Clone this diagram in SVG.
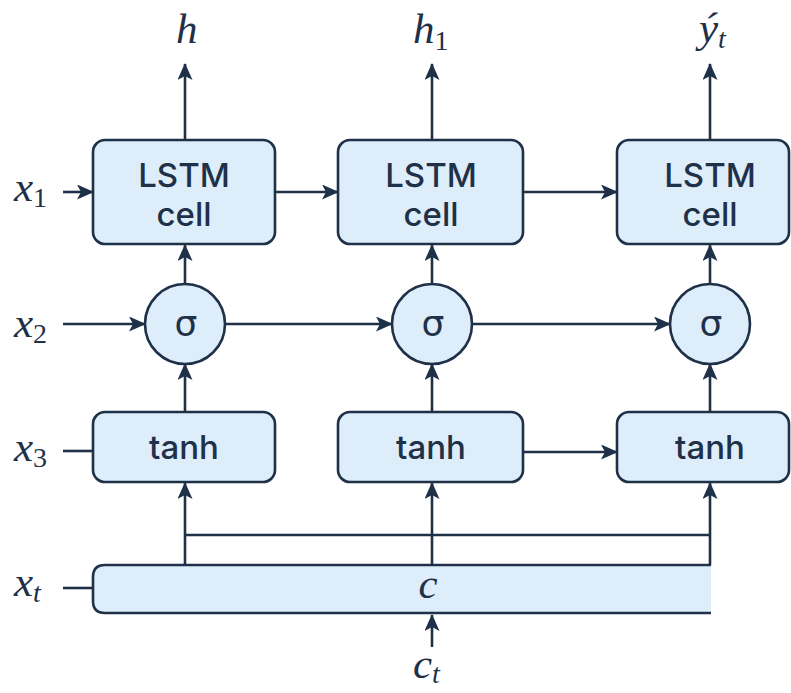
<svg xmlns="http://www.w3.org/2000/svg" width="791" height="693" viewBox="0 0 791 693">
<style>
.box{fill:#ddedfa;stroke:#1f3049;stroke-width:2.6}
.lbl{font-family:Inter,"Liberation Sans",Arial,sans-serif;font-weight:500;font-size:33px;fill:#1f3049;text-anchor:middle}
.sig{font-family:"DejaVu Sans","Liberation Sans",sans-serif;font-size:36px;fill:#1f3049;text-anchor:middle}
.math{font-family:"Liberation Serif","Times New Roman",serif;font-style:italic;font-size:43px;fill:#1f3049}
.sub{font-size:28px}
.rm{font-style:normal}
.con{stroke:#1f3049;stroke-width:2.6;fill:none}
.arr{marker-end:url(#ah)}
</style>
<defs>
<marker id="ah" markerUnits="userSpaceOnUse" markerWidth="17" markerHeight="15" viewBox="0 0 17 15" refX="16" refY="7.5" orient="auto">
<path d="M0,0 L17,7.5 L0,15 L4,7.5 Z" fill="#1f3049"/>
</marker>
</defs>
<rect width="791" height="693" fill="#ffffff"/>

<g id="connectors">
<line class="con arr" x1="185" y1="140" x2="185" y2="64"/>
<line class="con arr" x1="432" y1="140" x2="432" y2="64"/>
<line class="con arr" x1="710" y1="140" x2="710" y2="64"/>
<line class="con arr" x1="63" y1="192" x2="93" y2="192"/>
<line class="con arr" x1="275" y1="192" x2="338" y2="192"/>
<line class="con arr" x1="523" y1="192" x2="617" y2="192"/>
<line class="con arr" x1="185" y1="284" x2="185" y2="245"/>
<line class="con arr" x1="432" y1="284" x2="432" y2="245"/>
<line class="con arr" x1="710" y1="284" x2="710" y2="245"/>
<line class="con arr" x1="63" y1="324" x2="145" y2="324"/>
<line class="con arr" x1="225" y1="324" x2="392" y2="324"/>
<line class="con arr" x1="472" y1="324" x2="670" y2="324"/>
<line class="con arr" x1="185" y1="412" x2="185" y2="364"/>
<line class="con arr" x1="432" y1="412" x2="432" y2="364"/>
<line class="con arr" x1="710" y1="412" x2="710" y2="364"/>
<line class="con" x1="63" y1="451" x2="93" y2="451"/>
<line class="con arr" x1="523" y1="452" x2="617" y2="452"/>
<line class="con arr" x1="185" y1="565" x2="185" y2="483"/>
<line class="con arr" x1="432" y1="565" x2="432" y2="483"/>
<line class="con arr" x1="710" y1="565" x2="710" y2="483"/>
<line class="con" x1="185" y1="535" x2="710" y2="535"/>
<line class="con" x1="63" y1="588" x2="93" y2="588"/>
<line class="con arr" x1="432" y1="647" x2="432" y2="615"/>
</g>

<g id="lstm1"><rect class="box" x="93" y="140" width="182" height="104" rx="12"/><text class="lbl" x="184" y="187">LSTM</text><text class="lbl" x="184" y="226">cell</text></g>
<g id="lstm2"><rect class="box" x="338" y="140" width="185" height="104" rx="12"/><text class="lbl" x="431" y="187">LSTM</text><text class="lbl" x="431" y="226">cell</text></g>
<g id="lstm3"><rect class="box" x="617" y="140" width="172" height="104" rx="12"/><text class="lbl" x="710" y="187">LSTM</text><text class="lbl" x="710" y="226">cell</text></g>

<g id="sigma1"><circle class="box" cx="185" cy="324" r="40"/><text class="sig" x="186" y="336">σ</text></g>
<g id="sigma2"><circle class="box" cx="432" cy="324" r="40"/><text class="sig" x="433" y="336">σ</text></g>
<g id="sigma3"><circle class="box" cx="710" cy="324" r="40"/><text class="sig" x="711" y="336">σ</text></g>

<g id="tanh1"><rect class="box" x="93" y="412" width="182" height="70" rx="12"/><text class="lbl" x="184" y="459">tanh</text></g>
<g id="tanh2"><rect class="box" x="338" y="412" width="185" height="70" rx="12"/><text class="lbl" x="431" y="459">tanh</text></g>
<g id="tanh3"><rect class="box" x="617" y="412" width="172" height="70" rx="12"/><text class="lbl" x="710" y="459">tanh</text></g>

<g id="cbar">
<path d="M711,565 L105,565 Q93,565 93,577 L93,601 Q93,613 105,613 L711,613 Z" fill="#ddedfa" stroke="none"/>
<path class="con" d="M711,565 L105,565 Q93,565 93,577 L93,601 Q93,613 105,613 L711,613"/>
<text class="math" x="428" y="598" text-anchor="middle">c</text>
</g>

<g id="labels">
<text class="math" x="176" y="43">h</text>
<text class="math" x="413" y="43">h<tspan class="sub rm" dy="7">1</tspan></text>
<text class="math" x="699" y="42">ý<tspan class="sub" dy="6">t</tspan></text>
<text class="math" x="14" y="201">x<tspan class="sub rm" dy="6">1</tspan></text>
<text class="math" x="14" y="337">x<tspan class="sub rm" dy="6">2</tspan></text>
<text class="math" x="14" y="461">x<tspan class="sub rm" dy="6">3</tspan></text>
<text class="math" x="14" y="596">x<tspan class="sub" dy="6">t</tspan></text>
<text class="math" x="413" y="678">c<tspan class="sub" dy="5">t</tspan></text>
</g>
</svg>
